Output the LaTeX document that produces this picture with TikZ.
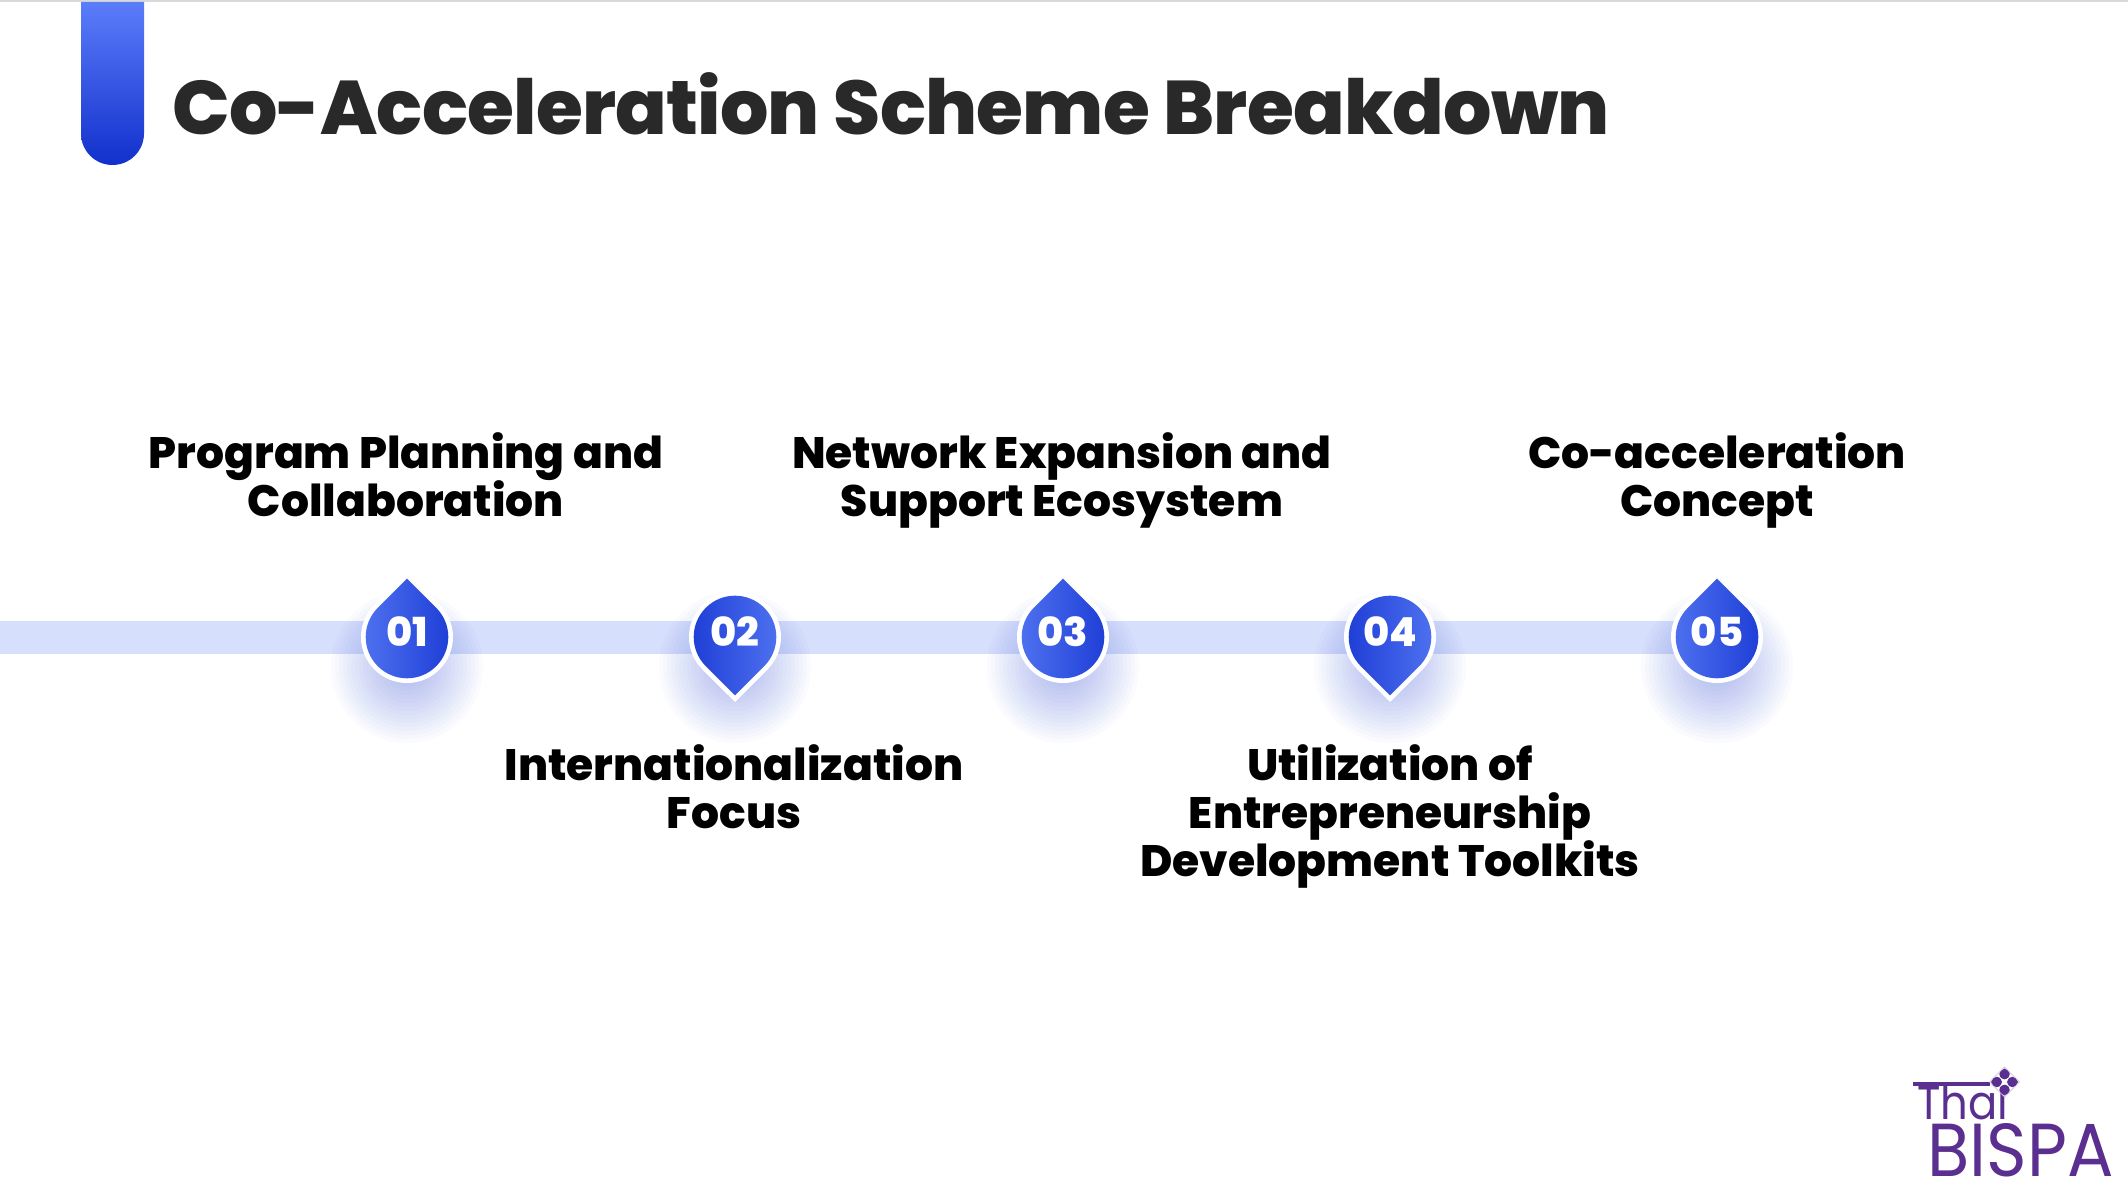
\documentclass[tikz,border=0pt]{standalone}
\usepackage{fontspec}
\usetikzlibrary{calc}
\setmainfont{Poppins ExtraBold}
\newfontfamily\titlefont[LetterSpace=-1.0]{Poppins ExtraBold}
\newfontfamily\logofont{Poppins}
\definecolor{titleink}{HTML}{292929}
\definecolor{barblue}{HTML}{D6DFFB}
\definecolor{markL}{HTML}{4F72F0}
\definecolor{markD}{HTML}{1E3DD6}
\definecolor{pillT}{HTML}{5B7DFA}
\definecolor{pillB}{HTML}{1230CC}
\definecolor{shadowblue}{HTML}{3A56DC}
\definecolor{logopurple}{HTML}{5A2F8F}
\definecolor{rulegrey}{HTML}{D9D9D9}
\tikzset{
  x=0.5pt,y=0.5pt,
  titletext/.style={anchor=base west,inner sep=0,font=\titlefont\fontsize{38}{46}\selectfont,text=titleink},
  steptext/.style={align=center,inner sep=0,anchor=base,font=\fontsize{22}{24}\selectfont,text=black},
  digit/.style={anchor=base,inner sep=0,font=\fontsize{20}{24}\selectfont,text=white},
  markup/.style={left color=markL,right color=markD},
  markdown/.style={left color=markD,right color=markL},
  logotext/.style={anchor=south west,inner sep=0,text=logopurple},
}
\newcommand{\softglow}[1]{%
  \foreach \r in {20,24,...,76}
    \fill[shadowblue,opacity=0.022] (#1,533) circle[radius=\r];}
\newcommand{\markerup}[3]{%
  \softglow{#1}
  \fill[white] (#1,563+65) -- (#1+32.5,563+32.5) arc[start angle=45,end angle=-225,radius=46] -- cycle;
  \path[markup] (#1,563+58.4) -- (#1+29.2,563+29.2) arc[start angle=45,end angle=-225,radius=41.3] -- cycle;
  \node[digit] (#2) at (#1,1200-646.5) {#3};}
\newcommand{\markerdown}[3]{%
  \softglow{#1}
  \fill[white] (#1,563-65) -- (#1+32.5,563-32.5) arc[start angle=-45,end angle=225,radius=46] -- cycle;
  \path[markdown] (#1,563-58.4) -- (#1+29.2,563-29.2) arc[start angle=-45,end angle=225,radius=41.3] -- cycle;
  \node[digit] (#2) at (#1,1200-646.5) {#3};}
\begin{document}
\begin{tikzpicture}
\useasboundingbox (0,0) rectangle (2128,1200);
\fill[white] (0,0) rectangle (2128,1200);
\fill[rulegrey] (0,1198) rectangle (2128,1200);
% accent pill
\shade[top color=pillT,bottom color=pillB] (81,1198) -- (144,1198) -- (144,1066.5) arc[start angle=0,end angle=-180,radius=31.5] -- cycle;
\node[titletext] (title) at (172,1200-135) {Co-Acceleration Scheme Breakdown};
% timeline bar
\fill[barblue] (0,1200-654) rectangle (1717,1200-621);
\markerup{407}{m1}{01}
\markerdown{735}{m2}{02}
\markerup{1063}{m3}{03}
\markerdown{1390}{m4}{04}
\markerup{1717}{m5}{05}
% labels
\node[steptext] (l1a) at (406,1200-469) {Program Planning and};
\node[steptext] (l1b) at (406,1200-517) {Collaboration};
\node[steptext] (l2a) at (734,1200-780) {Internationalization};
\node[steptext] (l2b) at (734,1200-828) {Focus};
\node[steptext] (l3a) at (1062,1200-469) {Network Expansion and};
\node[steptext] (l3b) at (1062,1200-517) {Support Ecosystem};
\node[steptext] (l4a) at (1390,1200-780) {Utilization of};
\node[steptext] (l4b) at (1390,1200-828) {Entrepreneurship};
\node[steptext] (l4c) at (1390,1200-876) {Development Toolkits};
\node[steptext] (l5a) at (1717,1200-469) {Co-acceleration};
\node[steptext] (l5b) at (1717,1200-517) {Concept};
% logo
\node[logotext] (logoa) at (1927,1200-1177) {\resizebox{93pt}{26.5pt}{\logofont BISPA}};
\node[logotext] (logob) at (1917,1200-1120) {\resizebox{45.5pt}{18pt}{\logofont Thai}};
\fill[logopurple] (1913,1200-1086) rectangle (1990,1200-1082);
\begin{scope}[shift={(2004.5,118)}]
\fill[white,draw=logopurple!35,line width=0.3pt] (0,-15) -- (15,0) -- (0,15) -- (-15,0) -- cycle;
\foreach \a in {0,90,180,270}
  \fill[logopurple,rotate=\a] (0,2.5) .. controls (-8,5) and (-6,11) .. (0,13.5) .. controls (6,11) and (8,5) .. (0,2.5) -- cycle;
\fill[white] (0,0) circle[radius=2.5];
\end{scope}
\end{tikzpicture}
\end{document}
